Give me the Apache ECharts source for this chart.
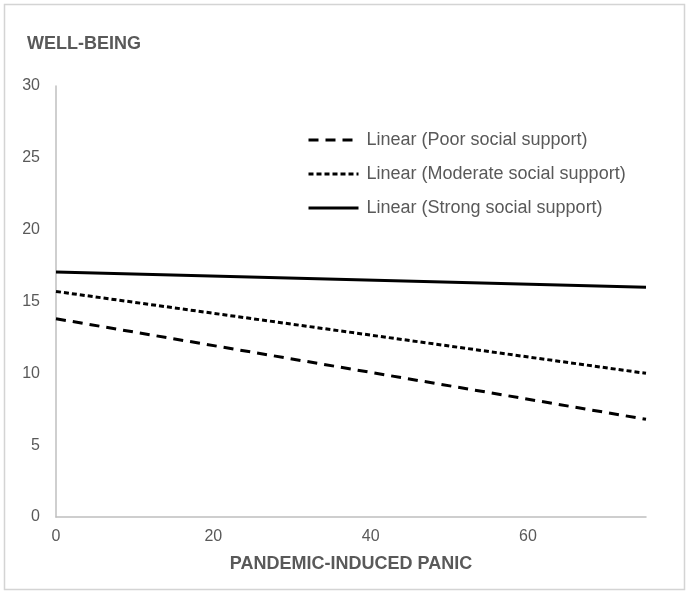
<!DOCTYPE html>
<html>
<head>
<meta charset="utf-8">
<script src="https://cdn.jsdelivr.net/npm/echarts@6/dist/echarts.min.js"></script>
<style>
  html, body { margin: 0; padding: 0; background: #fff; }
  #chart { width: 689px; height: 594px; }
</style>
</head>
<body>
<div id="chart"></div>
<script>
// x positions of the fitted lines (start and end of the panic range)
var panic = [0, 75];
var poorSupport = [13.8, 6.8];
var moderateSupport = [15.7, 10.0];
var strongSupport = [17.05, 16.0];
var seriesNames = [
  'Linear (Poor social support)',
  'Linear (Moderate social support)',
  'Linear (Strong social support)'
];

var toPairs = function (ys) {
  return panic.map(function (x, i) { return [x, ys[i]]; });
};

var chart = echarts.init(document.getElementById('chart'));
var labelColor = '#595959';
var font = 'Liberation Sans, Arial, sans-serif';

var option = {
  animation: false,
  textStyle: { fontFamily: font },
  graphic: [
    {
      type: 'rect',
      shape: { x: 4.5, y: 4.5, width: 680, height: 585 },
      style: { fill: 'none', stroke: '#d4d4d4', lineWidth: 1.5 }
    },
    {
      type: 'text',
      left: 27, top: 35,
      style: { text: 'WELL-BEING', fill: labelColor, font: 'bold 18px ' + font }
    }
  ],
  grid: { left: 56, right: 43, top: 86, bottom: 77 },
  legend: {
    orient: 'vertical',
    left: 302,
    top: 126,
    itemWidth: 50,
    itemHeight: 14,
    itemGap: 16,
    itemStyle: { opacity: 0 },
    lineStyle: { width: 3 },
    textStyle: { color: labelColor, fontSize: 18, fontFamily: font, padding: [0, 0, 0, 3] },
    data: seriesNames
  },
  xAxis: {
    type: 'value',
    min: 0,
    max: 75,
    interval: 20,
    name: 'PANDEMIC-INDUCED PANIC',
    nameLocation: 'middle',
    nameGap: 38,
    nameTextStyle: { color: labelColor, fontWeight: 'bold', fontSize: 18, fontFamily: font },
    axisLine: { lineStyle: { color: '#bfbfbf', width: 1.5 } },
    axisTick: { show: false },
    axisLabel: { color: labelColor, fontSize: 16, margin: 12, showMaxLabel: false },
    splitLine: { show: false }
  },
  yAxis: {
    type: 'value',
    min: 0,
    max: 30,
    interval: 5,
    axisLine: { show: true, lineStyle: { color: '#bfbfbf', width: 1.5 } },
    axisTick: { show: false },
    axisLabel: { color: labelColor, fontSize: 16, margin: 16 },
    splitLine: { show: false }
  },
  series: [
    {
      name: seriesNames[0],
      type: 'line',
      symbol: 'none',
      data: toPairs(poorSupport),
      lineStyle: { color: '#000', width: 3, type: [10, 7] },
      itemStyle: { color: '#000' }
    },
    {
      name: seriesNames[1],
      type: 'line',
      symbol: 'none',
      data: toPairs(moderateSupport),
      lineStyle: { color: '#000', width: 3, type: [5, 3] },
      itemStyle: { color: '#000' }
    },
    {
      name: seriesNames[2],
      type: 'line',
      symbol: 'none',
      data: toPairs(strongSupport),
      lineStyle: { color: '#000', width: 3, type: 'solid' },
      itemStyle: { color: '#000' }
    }
  ]
};

chart.setOption(option);
window.addEventListener('resize', function () {
  chart.resize();
});
</script>
</body>
</html>
